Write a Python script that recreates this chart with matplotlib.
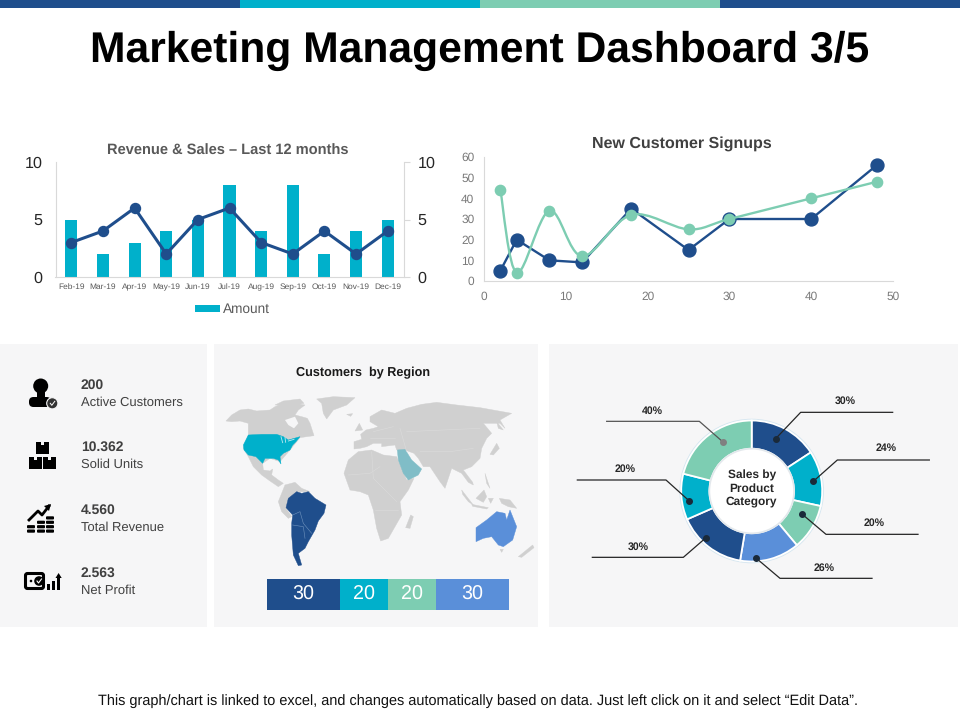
import matplotlib
matplotlib.use('Agg')
import matplotlib.pyplot as plt
import numpy as np
from matplotlib.patches import Rectangle, Polygon, Circle, FancyBboxPatch, PathPatch
from matplotlib.path import Path

plt.rcParams['font.family'] = ['Liberation Sans', 'DejaVu Sans']
plt.rcParams['text.hinting'] = 'no_hinting'

DARK = '#1F4E8C'
TEAL = '#00B0CB'
MINT = '#7DCDB2'
BLUE = '#5A8FD9'
PANEL = '#F6F6F7'
LAND = '#D0D0D0'

# revenue chart
months = ['Feb-19', 'Mar-19', 'Apr-19', 'May-19', 'Jun-19', 'Jul-19', 'Aug-19', 'Sep-19', 'Oct-19', 'Nov-19', 'Dec-19']
amount = [5, 2, 3, 4, 5, 8, 4, 8, 2, 4, 5]
sales = [3, 4, 6, 2, 5, 6, 3, 2, 4, 2, 4]

# signups chart
signup_x = [2, 4, 8, 12, 18, 25, 30, 40, 48]
signups_a = [5, 20, 10, 9, 35, 15, 30, 30, 56]
signups_b = [44, 4, 34, 12, 32, 25, 30, 40, 48]

# kpi list
kpi_values = ['200', '10.362', '4.560', '2.563']
kpi_names = ['Active Customers', 'Solid Units', 'Total Revenue', 'Net Profit']

# region bar
region_values = [30, 20, 20, 30]
region_colors = [DARK, TEAL, MINT, BLUE]

# donut
donut_values = [30, 24, 20, 26, 30, 20, 40]
donut_colors = [DARK, TEAL, MINT, BLUE, DARK, TEAL, MINT]

# map outlines, west half
north_america = [(18, 78), (35, 60), (60, 45), (85, 42), (110, 48), (150, 45), (165, 35), (190, 25), (225, 25), (255, 30),
                 (235, 45), (225, 60), (245, 65), (262, 70), (270, 85), (282, 122), (260, 125), (240, 128), (210, 165),
                 (180, 200), (150, 190), (128, 205), (130, 225), (150, 228), (158, 222), (155, 240), (175, 255), (190, 265),
                 (175, 275), (150, 258), (125, 240), (100, 215), (85, 185), (70, 160), (85, 120), (85, 85), (60, 78), (35, 80)]
arctic = [(165, 30), (190, 18), (240, 12), (252, 25), (215, 32)]
hudson = [(195, 75), (225, 65), (235, 85), (222, 100), (205, 90)]
greenland = [(310, 55), (305, 25), (290, 12), (340, 5), (405, 8), (380, 30), (340, 45), (320, 72)]
iceland = [(380, 58), (398, 56), (392, 64)]
usa = [(85, 120), (125, 118), (170, 118), (190, 125), (205, 135), (240, 125), (228, 140), (218, 150), (210, 165), (190, 175),
       (180, 185), (183, 207), (175, 195), (160, 190), (135, 190), (128, 205), (108, 185), (85, 180), (72, 165), (70, 150)]
great_lakes = [[(183, 125), (188, 143)], [(195, 128), (197, 142)], [(205, 138), (222, 133)]]
south_america_north = [(175, 320), (195, 270), (225, 262), (245, 280), (270, 290), (235, 290), (205, 310), (198, 340),
                       (215, 365), (205, 370), (185, 350)]
south_america = [(198, 338), (205, 310), (230, 290), (245, 295), (265, 290), (285, 310), (318, 330), (312, 355), (295, 378),
                 (285, 405), (265, 440), (255, 460), (235, 475), (245, 510), (235, 512), (220, 480), (215, 420), (215, 385), (218, 360)]
south_america_borders = [[(218, 360), (240, 350), (250, 385), (275, 415)], [(218, 390), (250, 395), (255, 430)]]

# map outlines, east half
africa = [(12, 235), (25, 195), (55, 170), (95, 165), (130, 180), (170, 185), (200, 255), (222, 250), (205, 285), (180, 320),
          (185, 360), (165, 395), (145, 430), (122, 438), (110, 400), (100, 345), (85, 300), (60, 290), (30, 285)]
madagascar = [(197, 398), (212, 360), (220, 365), (210, 400)]
eurasia = [(42, 162), (42, 140), (65, 133), (62, 118), (78, 105), (100, 100), (115, 95), (90, 80), (90, 65), (125, 45), (165, 55),
           (200, 40), (245, 28), (290, 22), (350, 30), (420, 38), (515, 55), (480, 75), (495, 100), (480, 85), (430, 85), (455, 115),
           (440, 130), (425, 160), (420, 190), (395, 215), (370, 225), (398, 262), (400, 270), (385, 262), (365, 235), (335, 220),
           (315, 280), (300, 260), (270, 215), (250, 215), (235, 190), (222, 175), (195, 165), (170, 165), (165, 150), (125, 155),
           (125, 145), (100, 145), (80, 155), (60, 160)]
arabia = [(172, 165), (195, 163), (215, 195), (245, 222), (235, 240), (205, 255), (190, 235), (175, 195)]
australia = [(408, 398), (440, 375), (470, 350), (495, 355), (500, 375), (510, 345), (530, 395), (518, 435), (490, 455), (475, 450),
             (455, 425), (430, 430), (408, 440)]
east_islands = [[(45, 108), (58, 85), (68, 105)], [(450, 178), (470, 145), (478, 160), (460, 180)],
                [(470, 80), (490, 105), (475, 100)], [(365, 285), (400, 330), (385, 320), (368, 298)],
                [(408, 310), (432, 285), (440, 305), (430, 322)], [(435, 235), (450, 280), (440, 265)],
                [(478, 310), (510, 315), (530, 340), (505, 335), (485, 325)], [(395, 328), (445, 338), (440, 342), (398, 334)],
                [(445, 310), (460, 310), (452, 325)], [(535, 485), (578, 450), (582, 458), (545, 487)], [(480, 463), (490, 463), (485, 472)]]
east_borders = [[(25, 240), (90, 235), (120, 215)], [(95, 170), (100, 250), (140, 290), (170, 320)], [(105, 345), (175, 345)],
                [(180, 100), (200, 170)], [(200, 110), (420, 100)], [(240, 170), (330, 170), (400, 160)], [(100, 110), (160, 95)],
                [(90, 130), (165, 130)]]

# leader lines of the donut (panel zoom units): dot, knee, end, label
leaders = [((677, 176), (752, 97), (1028, 97), (886, 64)),
           ((790, 304), (862, 240), (1138, 240), (1008, 205)),
           ((757, 403), (828, 463), (1104, 463), (973, 430)),
           ((619, 535), (690, 595), (966, 595), (823, 565)),
           ((468, 473), (400, 532), (127, 532), (265, 501)),
           ((418, 363), (348, 300), (82, 300), (226, 268)),
           ((519, 186), (448, 124), (170, 124), (307, 94))]


def px_axes(left, top, right, bottom, **kw):
    return fig.add_axes([left / 960, 1 - bottom / 720, (right - left) / 960, (bottom - top) / 720], **kw)


def smooth_path(xs, ys):
    # excel style smoothed line, bezier through the points
    p = np.column_stack([xs, ys]).astype(float)
    verts = [p[0]]
    codes = [Path.MOVETO]
    for i in range(len(p) - 1):
        p0 = p[max(i - 1, 0)]
        p3 = p[min(i + 2, len(p) - 1)]
        verts += [p[i] + (p[i + 1] - p0) / 6, p[i + 1] - (p3 - p[i]) / 6, p[i + 1]]
        codes += [Path.CURVE4] * 3
    return Path(verts, codes)


def west(pts):
    return [(220 + x / 3, 395 + y / 3) for x, y in pts]


def east(pts):
    return [(340 + x / 3, 395 + y / 3) for x, y in pts]


fig = plt.figure(figsize=(9.6, 7.2), dpi=100, facecolor='white')

# background layer in pixel units
bg = fig.add_axes([0, 0, 1, 1], zorder=0)
bg.set_xlim(0, 960)
bg.set_ylim(720, 0)
bg.axis('off')

for x0, col in zip([0, 240, 480, 720], [DARK, TEAL, MINT, DARK]):
    bg.add_patch(Rectangle((x0, 0), 240, 8, color=col, lw=0))
for x0, x1 in [(0, 207), (214, 538), (549, 958)]:
    bg.add_patch(Rectangle((x0, 344), x1 - x0, 283, color=PANEL, lw=0))

bg.text(480, 51, 'Marketing Management Dashboard 3/5', ha='center', va='center', fontsize=30.7,
        fontweight='bold', color='black')
bg.text(478.5, 701, 'This graph/chart is linked to excel, and changes automatically based on data. Just left click on it and select \u201cEdit Data\u201d.',
        ha='center', va='center', fontsize=10.45, color='#111111')

# kpis
for i in range(4):
    y = 385 + i * 62.7
    bg.text(81, y, kpi_values[i], ha='left', va='center', fontsize=10, fontweight='bold', color='#404040')
    bg.text(81, y + 17.3, kpi_names[i], ha='left', va='center', fontsize=9.4, color='#404040')

# person icon
bg.add_patch(Circle((40.7, 386), 7.5, color='black', lw=0))
bg.add_patch(FancyBboxPatch((29, 397), 22, 10, boxstyle='round,pad=0,rounding_size=4.5', color='black', lw=0))
bg.add_patch(Rectangle((36.5, 391), 8.5, 8, color='black', lw=0))
bg.add_patch(Circle((52.3, 403.3), 5.6, color='#333333', ec=PANEL, lw=0.8))
bg.plot([50.3, 51.8, 54.8], [403.3, 405.3, 401.3], color='white', lw=0.7)

# boxes icon
for bx, by in [(36, 441.5), (29, 456.5), (43, 456.5)]:
    bg.add_patch(Rectangle((bx, by), 12.5, 12.5, color='black', lw=0))
    bg.add_patch(Rectangle((bx + 5, by), 2.5, 3.5, color=PANEL, lw=0))

# revenue icon
for sx, rows in [(27, 2), (37, 3), (46, 4)]:
    for r in range(rows):
        bg.add_patch(FancyBboxPatch((sx, 529.5 - r * 4.4), 8, 3.2, boxstyle='round,pad=0,rounding_size=1', color='black', lw=0))
bg.plot([29, 38, 42, 49], [520, 511, 515, 506], color='black', lw=2)
bg.add_patch(Polygon([(44, 506), (51, 504), (49, 511)], color='black', lw=0))

# money icon
bg.add_patch(FancyBboxPatch((25.5, 573.5), 18, 15, boxstyle='round,pad=0,rounding_size=2', fc='none', ec='black', lw=2.2))
bg.add_patch(Circle((39, 581), 4.8, color='black', lw=0))
bg.plot([37, 38.5, 41.5], [581, 583, 579], color='white', lw=0.8)
bg.add_patch(Circle((31, 581), 1.3, color='black', lw=0))
for bx, btop in [(47, 584), (52, 581)]:
    bg.add_patch(Rectangle((bx, btop), 3.2, 590 - btop, color='black', lw=0))
bg.add_patch(Rectangle((57, 578), 3.2, 12, color='black', lw=0))
bg.add_patch(Polygon([(55.5, 578), (58.6, 573), (61.7, 578)], color='black', lw=0))

# revenue & sales
ax1 = px_axes(55.5, 162, 403.5, 277, zorder=2)
ax1.patch.set_alpha(0)
pos = np.arange(len(months))
bars = ax1.bar(pos, amount, width=0.38, color=TEAL, label='Amount')
ax1.set_xlim(-0.5, 10.5)
ax1.set_ylim(0, 10)
ax1.set_yticks([0, 5, 10])
ax1.set_xticks(pos)
ax1.set_xticklabels(months, fontsize=6, color='#595959')
ax1.tick_params(axis='x', length=0, pad=4.7)
ax1.tick_params(axis='y', length=0, pad=9.5, labelsize=11.6, labelcolor='#262626')
ax1.spines['top'].set_visible(False)
ax1.spines['right'].set_visible(False)
for s in ['left', 'bottom']:
    ax1.spines[s].set_color('#D9D9D9')
ax1.set_title('Revenue & Sales \u2013 Last 12 months', fontsize=10.5, fontweight='bold', color='#595959', x=0.496, pad=5.5)

ax1r = ax1.twinx()
ax1r.patch.set_alpha(0)
ax1r.plot(pos, sales, color=DARK, lw=2.2, marker='o', ms=7.2)
ax1r.set_ylim(0, 10)
ax1r.set_yticks([0, 5, 10])
ax1r.tick_params(axis='y', length=4, width=0.8, color='#D9D9D9', pad=6, labelsize=11.6, labelcolor='#262626')
for s in ['top', 'left', 'bottom']:
    ax1r.spines[s].set_visible(False)
ax1r.spines['right'].set_color('#D9D9D9')

fig.legend(handles=[bars], labels=['Amount'], loc='center', bbox_to_anchor=(232 / 960, 1 - 309.5 / 720), frameon=False,
           fontsize=9.8, labelcolor='#595959', handlelength=1.85, handleheight=0.4, handletextpad=0.2)

# signups
ax2 = px_axes(484, 157, 893, 281, zorder=2)
ax2.patch.set_alpha(0)
ax2.add_patch(PathPatch(smooth_path(signup_x, signups_b), fc='none', ec=MINT, lw=1.7, zorder=3))
ax2.plot(signup_x, signups_a, color=DARK, lw=1.7, marker='o', ms=9.3, zorder=2)
ax2.plot(signup_x, signups_b, color=MINT, ls='none', marker='o', ms=7.4, zorder=4)
ax2.set_xlim(0, 50)
ax2.set_ylim(0, 60)
ax2.set_xticks([0, 10, 20, 30, 40, 50])
ax2.set_yticks([0, 10, 20, 30, 40, 50, 60])
ax2.tick_params(length=0, labelsize=8.6, labelcolor='#7A7A7A')
ax2.tick_params(axis='x', pad=7.5)
ax2.tick_params(axis='y', pad=7)
ax2.spines['top'].set_visible(False)
ax2.spines['right'].set_visible(False)
for s in ['left', 'bottom']:
    ax2.spines[s].set_color('#D9D9D9')
ax2.set_title('New Customer Signups', fontsize=11.5, fontweight='bold', color='#404040', x=0.484, pad=7)

# map
bg.text(363.5, 373, 'Customers  by Region', ha='center', va='center', fontsize=9.1, fontweight='bold', color='#1A1A1A')
mp = px_axes(215, 345, 540, 630, zorder=1)
mp.set_xlim(215, 540)
mp.set_ylim(630, 345)
mp.axis('off')
for shape in [north_america, arctic, greenland, iceland, south_america_north]:
    mp.add_patch(Polygon(west(shape), closed=True, fc=LAND, ec=LAND, lw=0.3))
mp.add_patch(Polygon(west(hudson), closed=True, fc=PANEL, lw=0))
for shape in [africa, madagascar, eurasia] + east_islands:
    mp.add_patch(Polygon(east(shape), closed=True, fc=LAND, ec=LAND, lw=0.3))
for line in east_borders:
    mp.plot(*zip(*east(line)), color='#DBDBDB', lw=0.4)
mp.add_patch(Polygon(west(usa), closed=True, fc=TEAL, ec=TEAL, lw=0.3))
for line in great_lakes:
    mp.plot(*zip(*west(line)), color='#BFE8F0', lw=0.6)
mp.add_patch(Polygon(west(south_america), closed=True, fc=DARK, ec=DARK, lw=0.3))
for line in south_america_borders:
    mp.plot(*zip(*west(line)), color='#6F93BD', lw=0.4)
mp.add_patch(Polygon(east(arabia), closed=True, fc='#80BDC7', ec='#80BDC7', lw=0.3))
mp.add_patch(Polygon(east(australia), closed=True, fc=BLUE, ec=BLUE, lw=0.3))

# region bar
rb = px_axes(267, 579, 509, 610, zorder=2)
left = 0
for val, col in zip(region_values, region_colors):
    rb.barh(0, val, left=left, height=1, color=col, lw=0)
    rb.text(left + val / 2, 0, str(val), ha='center', va='center', color='white', fontsize=14.2)
    left += val
rb.set_xlim(0, sum(region_values))
rb.set_ylim(-0.5, 0.5)
rb.axis('off')

# donut
cx, cy, rad = 751.7, 491, 70.5
dn = px_axes(cx - rad * 1.1, cy - rad * 1.1, cx + rad * 1.1, cy + rad * 1.1, zorder=2)
dn.add_patch(Circle((0, 0), 1.025, color='#D5E6F0', lw=0))
dn.pie(donut_values, colors=donut_colors, startangle=90, counterclock=False, radius=1,
       wedgeprops=dict(width=0.4, edgecolor='white', linewidth=1.3))
dn.add_patch(Circle((0, 0), 0.6, fc='white', ec='#E3E8EC', lw=1.2, zorder=5))
dn.set_xlim(-1.1, 1.1)
dn.set_ylim(-1.1, 1.1)
dn.text(0, 0.035, 'Sales by\nProduct\nCategory', ha='center', va='center', fontsize=8.6, fontweight='bold',
        color='#262626', linespacing=1.2, zorder=6)

# leaders go over the donut
top = fig.add_axes([0, 0, 1, 1], zorder=5)
top.set_xlim(0, 960)
top.set_ylim(720, 0)
top.axis('off')
donut_labels = ['%d%%' % v for v in donut_values]
for i, ((dot, knee, end, lab), txt) in enumerate(zip(leaders, donut_labels)):
    xs = [550 + p[0] / 3 for p in (dot, knee, end)]
    ys = [380 + p[1] / 3 for p in (dot, knee, end)]
    line_col = '#555555' if i == 6 else '#262626'
    top.plot(xs, ys, color=line_col, lw=0.9)
    top.plot(xs[0], ys[0], 'o', color='#808080' if i == 6 else '#1A2A3A', ms=4)
    top.text(550 + lab[0] / 3, 380 + lab[1] / 3, txt, ha='center', va='center', fontsize=7.6, fontweight='bold', color='#262626')

fig.savefig('out.png', dpi=100)
plt.close()
